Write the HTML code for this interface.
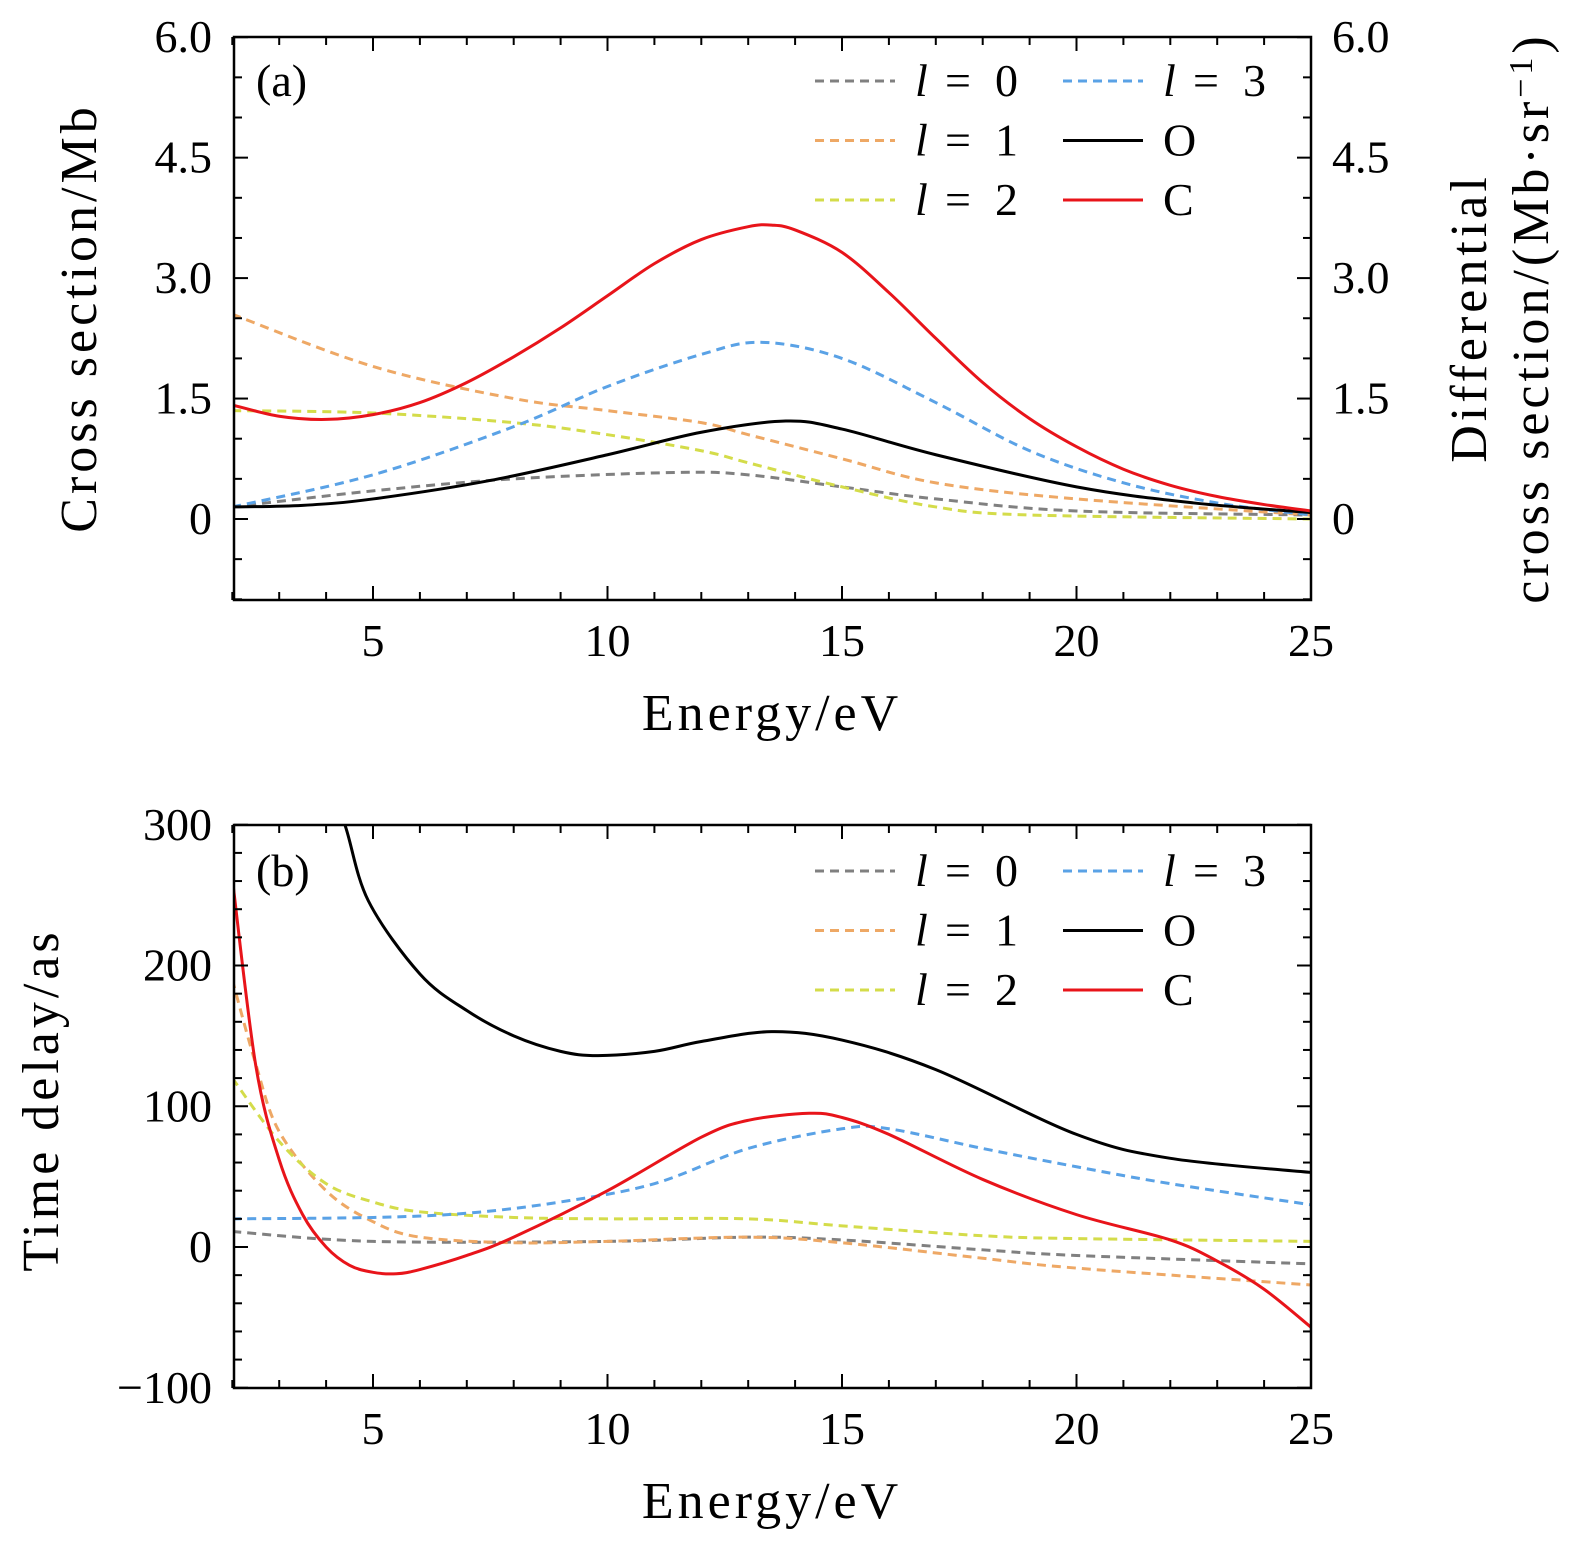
<!DOCTYPE html>
<html><head><meta charset="utf-8"><style>
body{margin:0;background:#fff}
svg text{font-family:"Liberation Serif",serif;font-size:46px;fill:#000}
.al{font-size:52px;letter-spacing:4px}
</style></head><body>
<svg id="s" width="1575" height="1545" xmlns="http://www.w3.org/2000/svg">
<defs>
<clipPath id="c1"><rect x="234" y="37" width="1077" height="563"/></clipPath>
<clipPath id="c2"><rect x="234" y="825" width="1077" height="563"/></clipPath>
</defs>
<g id="g"></g>
</svg>
<script>
const g=document.getElementById('g');
const X=x=>373+(x-5)*46.9;
function Y1(v){return 519-v*80.3}
function Y2(v){return 1247-v*1.4075}
function path(pts,Y,color,dash,clip,w){
 const p=pts.map(a=>[X(a[0]),Y(a[1])]);
 let d='M'+p[0][0]+','+p[0][1];
 for(let i=0;i<p.length-1;i++){
  const p0=p[i-1]||p[i],p1=p[i],p2=p[i+1],p3=p[i+2]||p2;
  d+=' C'+(p1[0]+(p2[0]-p0[0])/6)+','+(p1[1]+(p2[1]-p0[1])/6)+' '+(p2[0]-(p3[0]-p1[0])/6)+','+(p2[1]-(p3[1]-p1[1])/6)+' '+p2[0]+','+p2[1];
 }
 return `<path d="${d}" fill="none" stroke="${color}" stroke-width="${w||3}" ${dash?'stroke-dasharray="9,6"':''} clip-path="url(#${clip})"/>`;
}
const GR='#808080',OR='#eea865',YE='#d4dc4a',BL='#5aa2e6',BK='#000',RD='#e8141a';
let h='';
const t={
 l0:[[2,0.15],[5,0.35],[8,0.5],[11.5,0.58],[13,0.55],[15,0.4],[17,0.25],[20,0.1],[25,0.05]],
 l1:[[2,2.55],[5,1.9],[8,1.5],[10,1.35],[12,1.2],[13,1.05],[15,0.75],[17,0.45],[20,0.25],[25,0.05]],
 l2:[[2,1.35],[5,1.32],[8,1.2],[10,1.05],[12,0.85],[13,0.7],[15,0.4],[17,0.15],[19,0.05],[25,0.0]],
 l3:[[2,0.15],[5,0.55],[8,1.15],[10,1.65],[12,2.05],[13.3,2.2],[15,2.0],[17,1.45],[19,0.85],[21,0.45],[23,0.2],[25,0.05]],
 O:[[2,0.15],[3.5,0.17],[5,0.25],[7.5,0.48],[10,0.8],[12,1.08],[13.8,1.22],[15,1.12],[17,0.8],[20,0.4],[22.5,0.2],[25,0.08]],
 C:[[2,1.42],[3,1.28],[4,1.24],[5,1.3],[6,1.45],[7,1.7],[8,2.02],[9,2.38],[10,2.78],[11,3.18],[12,3.48],[13,3.64],[13.5,3.66],[14,3.6],[15,3.32],[16,2.82],[17,2.25],[18,1.7],[19,1.25],[20,0.9],[21,0.62],[22,0.42],[23,0.28],[24,0.18],[25,0.1]]
};
const b={
 l0:[[2,11],[5,4],[10,4],[13,7],[15,5],[18,-2],[20,-6],[25,-12]],
 l1:[[2,190],[2.5,130],[3,82],[4,40],[5,18],[6,7],[8,3],[10,4],[13,7],[15,3],[18,-8],[20,-15],[25,-27]],
 l2:[[2,120],[3,75],[4,45],[5,32],[6,25],[8,21],[10,20],[13,20],[15,15],[18,8],[20,6],[25,4]],
 l3:[[2,20],[5,21],[7,24],[9,32],[11,45],[13,70],[15,84],[16,84],[18,70],[20,57],[22,45],[25,30]],
 O:[[4.0,330],[4.4,300],[4.9,246],[6,194],[7,168],[8,150],[9,139],[9.8,136],[11,139],[12,146],[13.5,153],[15,147],[17,126],[20,80],[22,63],[25,53]],
 C:[[2,262],[2.5,129],[3,62],[3.5,23],[4,0],[4.5,-13],[5,-18],[5.5,-19],[6,-16],[7,-6],[8,7],[10,40],[12,78],[13,90],[14.3,95],[15,92],[16,80],[18,48],[20,23],[22,5],[23,-10],[24,-30],[25,-57]]
};
const cols={l0:GR,l1:OR,l2:YE,l3:BL,O:BK,C:RD};
for(const k in t)h+=path(t[k],Y1,cols[k],k[0]=='l','c1');
for(const k in b)h+=path(b[k],Y2,cols[k],k[0]=='l','c2');
function frame(top,bot,yminTicks,ylab,right){
 h+=`<rect x="234" y="${top}" width="1077" height="${bot-top}" fill="none" stroke="#000" stroke-width="2.5"/>`;
 for(let x=2;x<=25;x++){const px=X(x);const L=x%5==0?14:8;
  h+=`<line x1="${px}" y1="${bot}" x2="${px}" y2="${bot-L}" stroke="#000" stroke-width="2"/><line x1="${px}" y1="${top}" x2="${px}" y2="${top+L}" stroke="#000" stroke-width="2"/>`;
  if(x%5==0)h+=`<text x="${px}" y="${bot+56}" text-anchor="middle">${x}</text>`;}
 for(const [py,L] of yminTicks){
  h+=`<line x1="234" y1="${py}" x2="${234+L}" y2="${py}" stroke="#000" stroke-width="2"/><line x1="1311" y1="${py}" x2="${1311-L}" y2="${py}" stroke="#000" stroke-width="2"/>`;}
 for(const [py,s] of ylab){h+=`<text x="212" y="${py+15}" text-anchor="end">${s}</text>`;
  if(right)h+=`<text x="1332" y="${py+15}">${s}</text>`;}
 h+=`<text class="al" x="772" y="${bot+130}" text-anchor="middle">Energy/eV</text>`;
}
let tk=[];for(let v=-1;v<=6.001;v+=0.5)tk.push([Y1(v),Math.abs(v/1.5-Math.round(v/1.5))<1e-6?14:8]);
frame(37,600,tk,[[Y1(6),'6.0'],[Y1(4.5),'4.5'],[Y1(3),'3.0'],[Y1(1.5),'1.5'],[Y1(0),'0']],true);
tk=[];for(let v=-100;v<=300;v+=20)tk.push([Y2(v),v%100==0?14:8]);
frame(825,1388,tk,[[Y2(300),'300'],[Y2(200),'200'],[Y2(100),'100'],[Y2(0),'0'],[Y2(-100),'\u2212100']],false);
h+=`<text class="al" x="0" y="0" transform="translate(96,318) rotate(-90)" text-anchor="middle">Cross section/Mb</text>`;
h+=`<text class="al" x="0" y="0" transform="translate(58,1100) rotate(-90)" text-anchor="middle">Time delay/as</text>`;
h+=`<text class="al" x="0" y="0" transform="translate(1486,318) rotate(-90)" text-anchor="middle">Differential</text>`;
h+=`<text class="al" x="0" y="0" transform="translate(1548,318) rotate(-90)" text-anchor="middle">cross section/(Mb·sr<tspan dy="-16" font-size="34">−1</tspan><tspan dy="16">)</tspan></text>`;
function lab(x,y,n){return `<text x="${x}" y="${y}" font-style="italic">l</text><text x="${x+30}" y="${y}">=</text><text x="${x+80}" y="${y}">${n}</text>`;}
function legend(y0,l){
 h+=`<text x="256" y="${y0+15}">${l}</text>`;
 const L=[['l0',0,'0'],['l1',1,'1'],['l2',2,'2']];
 for(const [k,i,n] of L){const y=y0+i*59.5;
  h+=`<line x1="815" y1="${y}" x2="895" y2="${y}" stroke="${cols[k]}" stroke-width="3" stroke-dasharray="9,6"/>`+lab(915,y+15,n);}
 h+=`<line x1="1063" y1="${y0}" x2="1143" y2="${y0}" stroke="${BL}" stroke-width="3" stroke-dasharray="9,6"/>`+lab(1163,y0+15,'3');
 h+=`<line x1="1063" y1="${y0+59.5}" x2="1143" y2="${y0+59.5}" stroke="${BK}" stroke-width="3"/><text x="1163" y="${y0+74.5}">O</text>`;
 h+=`<line x1="1063" y1="${y0+119}" x2="1143" y2="${y0+119}" stroke="${RD}" stroke-width="3"/><text x="1163" y="${y0+134}">C</text>`;
}
legend(81,'(a)');legend(871,'(b)');
g.innerHTML=h;
</script>
</body></html>
